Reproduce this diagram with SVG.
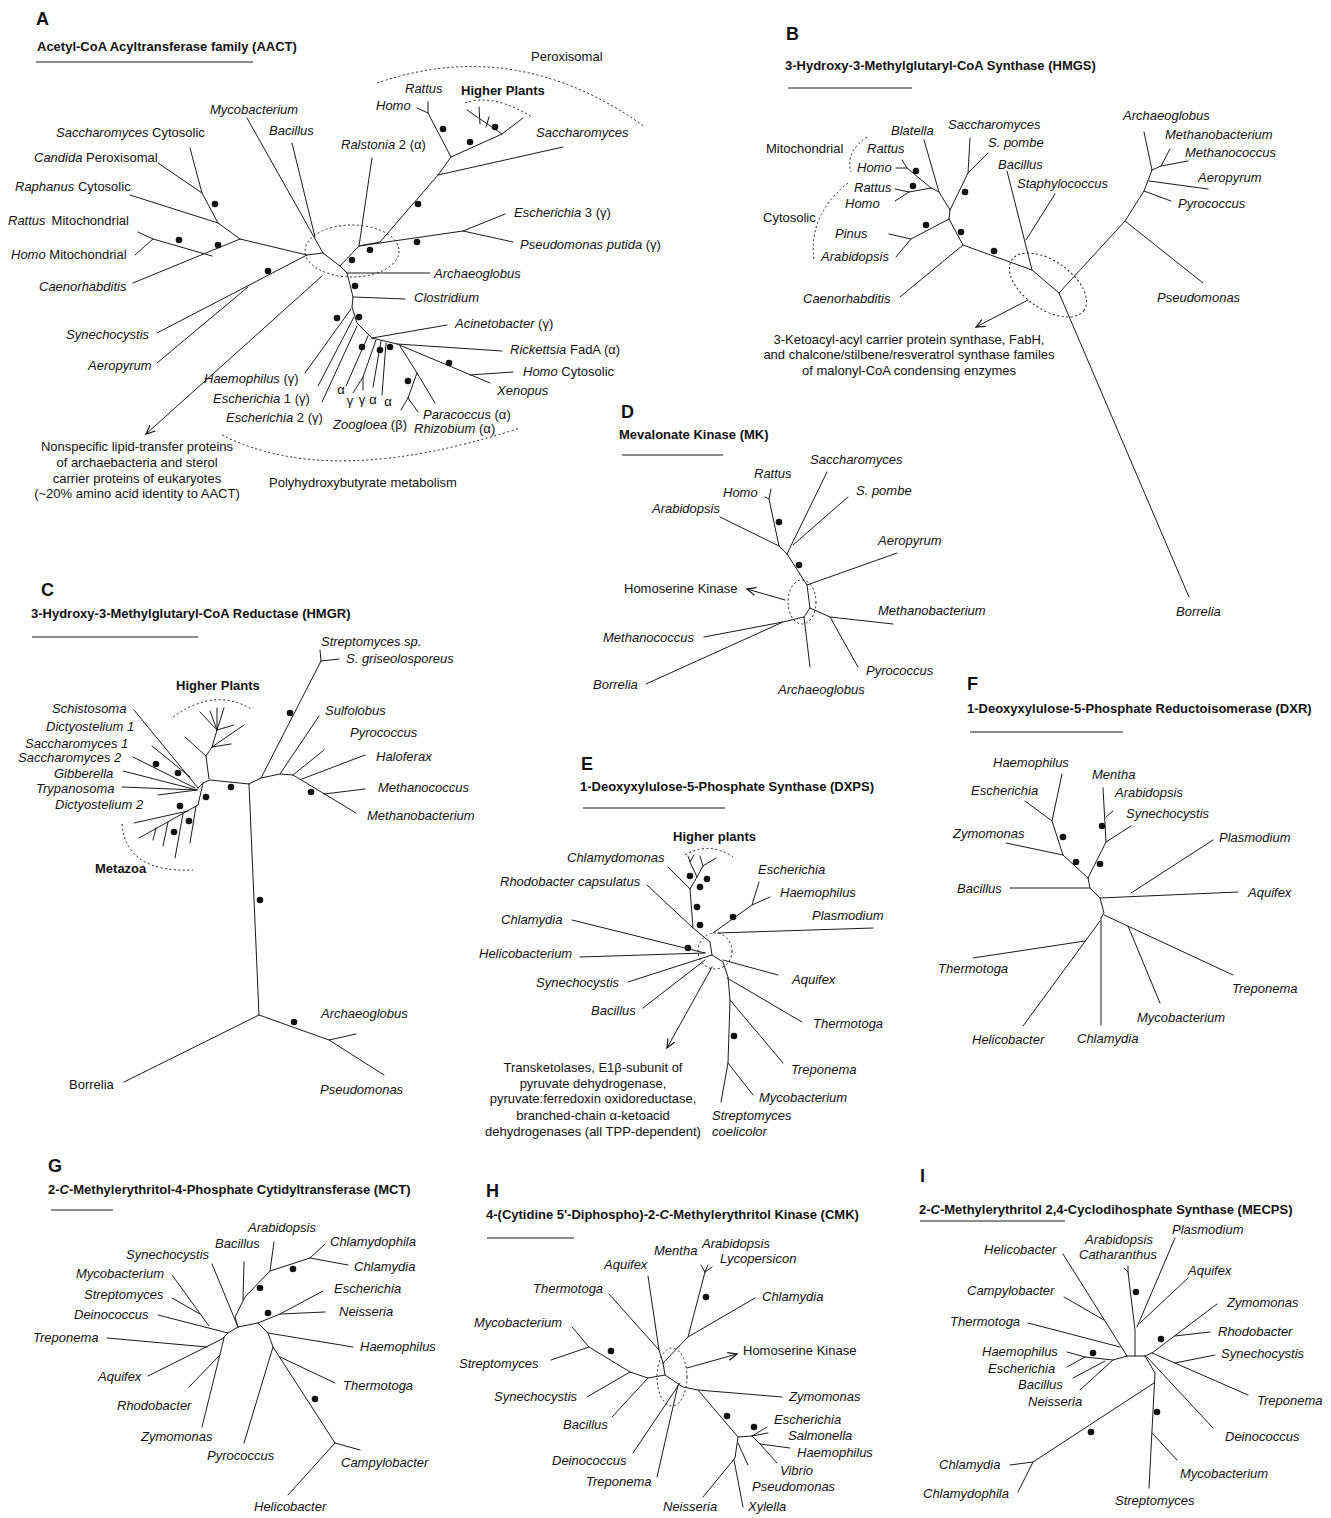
<svg xmlns="http://www.w3.org/2000/svg" width="1331" height="1518" viewBox="0 0 1331 1518">
<style>
.e{fill:none;stroke:#1a1a1a;stroke-width:1;stroke-linecap:round;stroke-linejoin:round}
.d{fill:none;stroke:#1a1a1a;stroke-width:1;stroke-dasharray:2 2.5}
.s{stroke:#1a1a1a;stroke-width:1}
text{font-family:"Liberation Sans",Arial,sans-serif;font-size:13px;fill:#111}
.i{font-style:italic}
.b{font-weight:bold}
.L{font-size:18px;font-weight:bold}
.c{text-anchor:middle}
.dot{fill:#111}
</style>
<defs>
<marker id="ar" viewBox="0 0 10 10" refX="9" refY="5" markerWidth="10" markerHeight="10" markerUnits="userSpaceOnUse" orient="auto">
<path d="M0,1 L9,5 L0,9" fill="none" stroke="#111" stroke-width="1.2"/>
</marker>
</defs>
<rect width="1331" height="1518" fill="#fff"/>

<!-- ================= PANEL A ================= -->
<g id="panel-A">
<text class="L" x="36" y="25">A</text>
<text class="b" x="37" y="51">Acetyl-CoA Acyltransferase family (AACT)</text>
<line class="s" x1="36" y1="62" x2="253" y2="62"/>
<g id="A-connectors" class="e">
<path d="M190,148L202,193L218,223L240,239 M158,163L202,193 M130,195L218,223 M133,283L240,239 M212,256L153,239L138,232 M153,239L135,255 M240,239L307,255L323,253 M157,333L307,255 M157,363L248,287 M247,118L323,253 M292,143L315,237 M372,158L359,246 M323,253L340,266L347,273L353,297L352,307L357,323L372,338 M340,266L359,246L380,242L438,175L451,157L428,113L428,102 M428,113L417,108 M451,157L502,134L523,118 M502,134L467,110 M480,124L479,107 M486,127L489,117 M438,175L563,147 M359,246L463,231L505,214 M463,231L513,242 M347,273L430,273 M353,297L405,299 M351,309L305,373 M354,317L318,386 M357,326L322,402 M372,338L447,325 M372,338L397,344L502,351 M397,344L490,383 M470,375L513,372 M400,346L417,373L435,403 M417,373L408,398L401,410 M408,398L418,412 M368,336L346,386 M376,340L363,377L353,393 M363,377L363,390 M381,341L373,387 M386,343L382,395"/>
<path d="M322,276L146,434" marker-end="url(#ar)"/>
</g>
<g id="A-dashed" class="d">
<ellipse cx="352" cy="251" rx="47" ry="26"/>
<path d="M377,83 Q517,35 645,127"/>
<path d="M465,103 Q493,93 532,117"/>
<path d="M222,435 Q330,490 520,428"/>
</g>
<g id="A-dots" class="dot">
<circle cx="215" cy="204" r="3.3"/><circle cx="179" cy="240" r="3.3"/><circle cx="218" cy="245" r="3.3"/>
<circle cx="268" cy="271" r="3.3"/><circle cx="352" cy="260" r="3.3"/><circle cx="370" cy="250" r="3.3"/>
<circle cx="417" cy="242" r="3.3"/><circle cx="418" cy="204" r="3.3"/><circle cx="443" cy="129" r="3.3"/>
<circle cx="470" cy="142" r="3.3"/><circle cx="495" cy="127" r="3.3"/><circle cx="355" cy="286" r="3.3"/>
<circle cx="337" cy="318" r="3.3"/><circle cx="359" cy="317" r="3.3"/><circle cx="362" cy="347" r="3.3"/>
<circle cx="380" cy="350" r="3.3"/><circle cx="390" cy="347" r="3.3"/><circle cx="449" cy="363" r="3.3"/>
<circle cx="408" cy="381" r="3.3"/>
</g>
<g id="A-labels">
<text class="i" x="210" y="114">Mycobacterium</text>
<text x="56" y="137"><tspan class="i">Saccharomyces</tspan> Cytosolic</text>
<text class="i" x="269" y="135">Bacillus</text>
<text x="34" y="162"><tspan class="i">Candida</tspan> Peroxisomal</text>
<text x="15" y="191"><tspan class="i">Raphanus</tspan> Cytosolic</text>
<text x="8" y="225"><tspan class="i">Rattus</tspan><tspan dx="6">Mitochondrial</tspan></text>
<text x="11" y="259"><tspan class="i">Homo</tspan> Mitochondrial</text>
<text class="i" x="39" y="291">Caenorhabditis</text>
<text class="i" x="66" y="339">Synechocystis</text>
<text class="i" x="88" y="370">Aeropyrum</text>
<text x="204" y="383"><tspan class="i">Haemophilus</tspan> (γ)</text>
<text x="213" y="403"><tspan class="i">Escherichia</tspan> 1 (γ)</text>
<text x="226" y="422"><tspan class="i">Escherichia</tspan> 2 (γ)</text>
<text x="333" y="429"><tspan class="i">Zoogloea</tspan> (β)</text>
<text class="c" x="341" y="394">α</text>
<text class="c" x="350" y="405">γ</text>
<text class="c" x="362" y="404">γ</text>
<text class="c" x="373" y="404">α</text>
<text class="c" x="388" y="406">α</text>
<text x="423" y="419"><tspan class="i">Paracoccus</tspan> (α)</text>
<text x="414" y="433"><tspan class="i">Rhizobium</tspan> (α)</text>
<text class="i" x="497" y="395">Xenopus</text>
<text x="523" y="376"><tspan class="i">Homo</tspan> Cytosolic</text>
<text x="510" y="354"><tspan class="i">Rickettsia</tspan> FadA (α)</text>
<text x="455" y="328"><tspan class="i">Acinetobacter</tspan> (γ)</text>
<text class="i" x="414" y="302">Clostridium</text>
<text class="i" x="434" y="278">Archaeoglobus</text>
<text x="520" y="249"><tspan class="i">Pseudomonas putida</tspan> (γ)</text>
<text x="514" y="217"><tspan class="i">Escherichia</tspan> 3 (γ)</text>
<text x="341" y="149"><tspan class="i">Ralstonia</tspan> 2 (α)</text>
<text class="i" x="536" y="137">Saccharomyces</text>
<text class="i" x="376" y="110">Homo</text>
<text class="i" x="405" y="93">Rattus</text>
<text class="b" x="461" y="95">Higher Plants</text>
<text x="531" y="61">Peroxisomal</text>
<text x="269" y="487">Polyhydroxybutyrate metabolism</text>
<text class="c" x="137" y="451">Nonspecific lipid-transfer proteins</text>
<text class="c" x="137" y="467">of archaebacteria and sterol</text>
<text class="c" x="137" y="483">carrier proteins of eukaryotes</text>
<text class="c" x="137" y="498">(~20% amino acid identity to AACT)</text>
</g>
</g>

<!-- ================= PANEL B ================= -->
<g id="panel-B">
<text class="L" x="786" y="40">B</text>
<text class="b" x="785" y="70">3-Hydroxy-3-Methylglutaryl-CoA Synthase (HMGS)</text>
<line class="s" x1="788" y1="88" x2="912" y2="88"/>
<g id="B-connectors" class="e">
<path d="M907,168L896,168 M907,168L902,160 M907,168L931,188 M909,192L895,189 M909,192L895,201 M909,192L931,188 M931,188L939,192 M924,140L939,192L950,210 M970,138L968,173L950,210 M988,153L968,173 M950,210L949,219L911,239L889,234 M911,239L896,257 M949,219L963,245L900,297 M963,245L1032,270L1059,293L1189,597 M1007,171L1032,270 M1055,194L1026,240 M1059,293L1125,221L1203,283 M1125,221L1144,191L1152,170L1144,132 M1144,191L1171,201 M1149,181L1208,189 M1152,170L1161,166L1170,149 M1161,166L1188,161"/>
<path d="M1028,300L976,327" marker-end="url(#ar)"/>
</g>
<g id="B-dashed" class="d">
<ellipse cx="1048" cy="285" rx="44" ry="24" transform="rotate(35 1048 285)"/>
<path d="M867,137 Q845,152 851,172"/>
<path d="M848,183 Q808,215 814,260"/>
</g>
<g id="B-dots" class="dot">
<circle cx="916" cy="171" r="3.3"/><circle cx="913" cy="186" r="3.3"/><circle cx="965" cy="192" r="3.3"/>
<circle cx="926" cy="225" r="3.3"/><circle cx="961" cy="232" r="3.3"/><circle cx="994" cy="251" r="3.3"/>
</g>
<g id="B-labels">
<text class="i" x="891" y="135">Blatella</text>
<text class="i" x="948" y="129">Saccharomyces</text>
<text class="i" x="988" y="147">S. pombe</text>
<text class="i" x="998" y="169">Bacillus</text>
<text class="i" x="1017" y="188">Staphylococcus</text>
<text x="766" y="153">Mitochondrial</text>
<text class="i" x="867" y="153">Rattus</text>
<text class="i" x="857" y="172">Homo</text>
<text class="i" x="854" y="192">Rattus</text>
<text class="i" x="845" y="208">Homo</text>
<text x="763" y="222">Cytosolic</text>
<text class="i" x="835" y="238">Pinus</text>
<text class="i" x="821" y="261">Arabidopsis</text>
<text class="i" x="803" y="303">Caenorhabditis</text>
<text class="i" x="1123" y="120">Archaeoglobus</text>
<text class="i" x="1165" y="139">Methanobacterium</text>
<text class="i" x="1185" y="157">Methanococcus</text>
<text class="i" x="1198" y="182">Aeropyrum</text>
<text class="i" x="1178" y="208">Pyrococcus</text>
<text class="i" x="1157" y="302">Pseudomonas</text>
<text class="i" x="1176" y="616">Borrelia</text>
<text class="c" x="909" y="344">3-Ketoacyl-acyl carrier protein synthase, FabH,</text>
<text class="c" x="909" y="359">and chalcone/stilbene/resveratrol synthase familes</text>
<text class="c" x="909" y="375">of malonyl-CoA condensing enzymes</text>
</g>
</g>

<!-- ================= PANEL C ================= -->
<g id="panel-C">
<text class="L" x="41" y="596">C</text>
<text class="b" x="31" y="618">3-Hydroxy-3-Methylglutaryl-CoA Reductase (HMGR)</text>
<line class="s" x1="32" y1="637" x2="198" y2="637"/>
<g id="C-connectors" class="e">
<path d="M203,783L210,780L249,784 M249,784L259,1015L124,1082 M259,1015L329,1040L356,1034 M329,1040L384,1075 M249,784L261,778L280,774L293,775 M261,778L321,661L320,650 M321,661L339,659 M280,774L319,716 M293,775L324,750 M302,779L365,755 M293,775L356,813 M324,794L365,789 M203,783L198,788 M134,710L198,788 M152,746L190,777 M133,757L195,788 M123,771L197,790 M122,787L197,790 M158,795L197,790 M203,783L198,805L139,838 M188,811L134,823 M196,806L190,843 M183,814L175,858 M168,822L163,846 M156,828L153,840 M209,779L206,756L185,737 M206,756L212,747L244,725 M212,747L217,730L200,712 M217,730L210,711 M217,730L217,708 M217,730L224,708 M212,747L231,744 M217,730L234,725"/>
</g>
<g id="C-dashed" class="d">
<path d="M173,717 Q215,687 251,709"/>
<path d="M122,824 Q126,873 193,870"/>
</g>
<g id="C-dots" class="dot">
<circle cx="156" cy="764" r="3.3"/><circle cx="178" cy="773" r="3.3"/><circle cx="206" cy="797" r="3.3"/>
<circle cx="180" cy="806" r="3.3"/><circle cx="189" cy="821" r="3.3"/><circle cx="174" cy="832" r="3.3"/>
<circle cx="231" cy="787" r="3.3"/><circle cx="260" cy="900" r="3.3"/><circle cx="290" cy="713" r="3.3"/>
<circle cx="311" cy="792" r="3.3"/><circle cx="294" cy="1022" r="3.3"/>
</g>
<g id="C-labels">
<text class="b" x="176" y="690">Higher Plants</text>
<text class="i" x="52" y="713">Schistosoma</text>
<text class="i" x="46" y="731">Dictyostelium 1</text>
<text class="i" x="25" y="748">Saccharomyces 1</text>
<text class="i" x="18" y="762">Saccharomyces 2</text>
<text class="i" x="54" y="778">Gibberella</text>
<text class="i" x="36" y="793">Trypanosoma</text>
<text class="i" x="55" y="809">Dictyostelium 2</text>
<text class="b" x="95" y="873">Metazoa</text>
<text class="i" x="321" y="646">Streptomyces sp.</text>
<text class="i" x="346" y="663">S. griseolosporeus</text>
<text class="i" x="325" y="715">Sulfolobus</text>
<text class="i" x="350" y="737">Pyrococcus</text>
<text class="i" x="376" y="761">Haloferax</text>
<text class="i" x="378" y="792">Methanococcus</text>
<text class="i" x="367" y="820">Methanobacterium</text>
<text class="i" x="321" y="1018">Archaeoglobus</text>
<text x="69" y="1089">Borrelia</text>
<text class="i" x="320" y="1094">Pseudomonas</text>
</g>
</g>

<!-- ================= PANEL D ================= -->
<g id="panel-D">
<text class="L" x="621" y="418">D</text>
<text class="b" x="619" y="439">Mevalonate Kinase (MK)</text>
<line class="s" x1="622" y1="455" x2="723" y2="455"/>
<g id="D-connectors" class="e">
<path d="M771,489L769,499L779,546 M765,497L769,499 M720,517L779,546L787,554 M827,472L787,554 M848,497L793,545 M787,554L807,585L897,553 M807,585L810,608L804,617 M810,608L830,617L893,624 M830,617L858,667 M804,617L810,667 M804,617L783,622L704,637 M783,622L646,684"/>
<path d="M785,600L747,589" marker-end="url(#ar)"/>
</g>
<g id="D-dashed" class="d"><ellipse cx="802" cy="602" rx="14" ry="22"/></g>
<g id="D-dots" class="dot"><circle cx="779" cy="522" r="3.3"/><circle cx="799" cy="565" r="3.3"/></g>
<g id="D-labels">
<text class="i" x="810" y="464">Saccharomyces</text>
<text class="i" x="754" y="478">Rattus</text>
<text class="i" x="856" y="495">S. pombe</text>
<text class="i" x="723" y="497">Homo</text>
<text class="i" x="652" y="513">Arabidopsis</text>
<text class="i" x="878" y="545">Aeropyrum</text>
<text x="624" y="593">Homoserine Kinase</text>
<text class="i" x="878" y="615">Methanobacterium</text>
<text class="i" x="603" y="642">Methanococcus</text>
<text class="i" x="866" y="675">Pyrococcus</text>
<text class="i" x="593" y="689">Borrelia</text>
<text class="i" x="778" y="694">Archaeoglobus</text>
</g>
</g>

<!-- ================= PANEL E ================= -->
<g id="panel-E">
<text class="L" x="581" y="770">E</text>
<text class="b" x="580" y="791">1-Deoxyxylulose-5-Phosphate Synthase (DXPS)</text>
<line class="s" x1="583" y1="808" x2="725" y2="808"/>
<g id="E-connectors" class="e">
<path d="M710,942L693,928L690,889L697,877 M647,885L693,928 M668,867L690,889 M697,877L690,862L688,856 M690,862L694,855 M697,877L703,866L700,856 M703,866L716,858 M759,882L752,905 M770,897L752,905L713,933 M718,933L873,928 M710,942L712,955 M572,920L705,953 M580,957L705,953 M628,982L712,955 M643,1008L705,960 M723,960L778,975 M712,955L723,962L728,977L730,1000L728,1063L721,1102 M727,978L802,1022 M730,1000L783,1063 M728,1063L753,1095"/>
<path d="M712,967L667,1048" marker-end="url(#ar)"/>
</g>
<g id="E-dashed" class="d">
<ellipse cx="715" cy="951" rx="17" ry="18"/>
<path d="M685,855 Q709,841 733,857"/>
</g>
<g id="E-dots" class="dot">
<circle cx="690" cy="876" r="3.3"/><circle cx="707" cy="879" r="3.3"/><circle cx="700" cy="887" r="3.3"/>
<circle cx="697" cy="907" r="3.3"/><circle cx="700" cy="925" r="3.3"/><circle cx="733" cy="917" r="3.3"/>
<circle cx="688" cy="948" r="3.3"/><circle cx="734" cy="1036" r="3.3"/>
</g>
<g id="E-labels">
<text class="b" x="673" y="841">Higher plants</text>
<text class="i" x="567" y="862">Chlamydomonas</text>
<text class="i" x="500" y="886">Rhodobacter capsulatus</text>
<text class="i" x="758" y="874">Escherichia</text>
<text class="i" x="780" y="897">Haemophilus</text>
<text class="i" x="812" y="920">Plasmodium</text>
<text class="i" x="501" y="924">Chlamydia</text>
<text class="i" x="479" y="958">Helicobacterium</text>
<text class="i" x="792" y="984">Aquifex</text>
<text class="i" x="536" y="987">Synechocystis</text>
<text class="i" x="591" y="1015">Bacillus</text>
<text class="i" x="813" y="1028">Thermotoga</text>
<text class="i" x="791" y="1074">Treponema</text>
<text class="i" x="759" y="1102">Mycobacterium</text>
<text class="i" x="712" y="1120">Streptomyces</text>
<text class="i" x="712" y="1136">coelicolor</text>
<text class="c" x="593" y="1072">Transketolases, E1β-subunit of</text>
<text class="c" x="593" y="1088">pyruvate dehydrogenase,</text>
<text class="c" x="593" y="1103">pyruvate:ferredoxin oxidoreductase,</text>
<text class="c" x="593" y="1120">branched-chain α-ketoacid</text>
<text class="c" x="593" y="1136">dehydrogenases (all TPP-dependent)</text>
</g>
</g>

<!-- ================= PANEL F ================= -->
<g id="panel-F">
<text class="L" x="967" y="690">F</text>
<text class="b" x="967" y="713">1-Deoxyxylulose-5-Phosphate Reductoisomerase (DXR)</text>
<line class="s" x1="970" y1="732" x2="1123" y2="732"/>
<g id="F-connectors" class="e">
<path d="M1062,774L1052,821L1063,855L1088,878 M1025,801L1052,821 M1006,843L1063,855 M1103,788L1106,842L1088,878 M1113,811L1106,817 M1131,826L1106,842 M1088,878L1090,888L1100,898L1238,892 M1010,888L1090,888 M1213,840L1131,893 M1100,898L1104,913L1101,918L1101,1025 M1100,921L1023,1026 M973,958L1085,941 M1104,915L1233,975 M1160,1003L1128,926"/>
</g>
<g id="F-dots" class="dot">
<circle cx="1063" cy="837" r="3.3"/><circle cx="1076" cy="862" r="3.3"/><circle cx="1102" cy="826" r="3.3"/><circle cx="1100" cy="864" r="3.3"/>
</g>
<g id="F-labels">
<text class="i" x="993" y="767">Haemophilus</text>
<text class="i" x="1092" y="779">Mentha</text>
<text class="i" x="971" y="795">Escherichia</text>
<text class="i" x="1115" y="797">Arabidopsis</text>
<text class="i" x="1126" y="818">Synechocystis</text>
<text class="i" x="953" y="838">Zymomonas</text>
<text class="i" x="1219" y="842">Plasmodium</text>
<text class="i" x="957" y="893">Bacillus</text>
<text class="i" x="1248" y="897">Aquifex</text>
<text class="i" x="938" y="973">Thermotoga</text>
<text class="i" x="1232" y="993">Treponema</text>
<text class="i" x="1137" y="1022">Mycobacterium</text>
<text class="i" x="972" y="1044">Helicobacter</text>
<text class="i" x="1077" y="1043">Chlamydia</text>
</g>
</g>

<!-- ================= PANEL G ================= -->
<g id="panel-G">
<text class="L" x="48" y="1172">G</text>
<text class="b" x="48" y="1194">2-<tspan class="i">C</tspan>-Methylerythritol-4-Phosphate Cytidyltransferase (MCT)</text>
<line class="s" x1="51" y1="1210" x2="113" y2="1210"/>
<g id="G-connectors" class="e">
<path d="M228,1333L238,1327L258,1323 M172,1275L209,1326 M172,1298L200,1314 M158,1315L228,1333 M212,1264L238,1327 M238,1327L235,1317L245,1297L270,1271 M244,1262L243,1300 M274,1242L270,1271L310,1258L325,1244 M310,1258L348,1265 M258,1323L280,1314L323,1291 M280,1314L325,1312 M258,1323L268,1333L353,1347 M268,1333L273,1347L244,1443 M273,1347L335,1443L360,1450 M335,1443L288,1495 M280,1357L335,1383 M228,1333L223,1338 M107,1338L207,1347 M148,1376L224,1338 M189,1387L220,1355 M202,1427L224,1338"/>
</g>
<g id="G-dots" class="dot">
<circle cx="293" cy="1269" r="3.3"/><circle cx="260" cy="1288" r="3.3"/><circle cx="268" cy="1313" r="3.3"/><circle cx="315" cy="1399" r="3.3"/>
</g>
<g id="G-labels">
<text class="i" x="248" y="1232">Arabidopsis</text>
<text class="i" x="330" y="1246">Chlamydophila</text>
<text class="i" x="215" y="1248">Bacillus</text>
<text class="i" x="126" y="1259">Synechocystis</text>
<text class="i" x="354" y="1271">Chlamydia</text>
<text class="i" x="76" y="1278">Mycobacterium</text>
<text class="i" x="334" y="1293">Escherichia</text>
<text class="i" x="84" y="1299">Streptomyces</text>
<text class="i" x="339" y="1316">Neisseria</text>
<text class="i" x="74" y="1319">Deinococcus</text>
<text class="i" x="33" y="1342">Treponema</text>
<text class="i" x="360" y="1351">Haemophilus</text>
<text class="i" x="98" y="1381">Aquifex</text>
<text class="i" x="343" y="1390">Thermotoga</text>
<text class="i" x="117" y="1410">Rhodobacter</text>
<text class="i" x="141" y="1441">Zymomonas</text>
<text class="i" x="207" y="1460">Pyrococcus</text>
<text class="i" x="341" y="1467">Campylobacter</text>
<text class="i" x="254" y="1511">Helicobacter</text>
</g>
</g>

<!-- ================= PANEL H ================= -->
<g id="panel-H">
<text class="L" x="486" y="1197">H</text>
<text class="b" x="486" y="1219">4-(Cytidine 5'-Diphospho)-2-<tspan class="i">C</tspan>-Methylerythritol Kinase (CMK)</text>
<line class="s" x1="487" y1="1238" x2="574" y2="1238"/>
<g id="H-connectors" class="e">
<path d="M705,1272L701,1265 M705,1272L708,1265 M705,1272L712,1267 M705,1272L688,1337L663,1363 M755,1298L688,1337 M648,1276L659,1350L663,1363 M609,1294L659,1350 M663,1363L665,1375L648,1378L630,1372L589,1347L572,1327 M589,1347L551,1360 M587,1397L630,1372 M612,1417L648,1378 M665,1375L683,1387L698,1390L782,1397 M633,1453L680,1383 M657,1477L678,1385 M698,1390L738,1437L752,1436L767,1427 M752,1436L768,1433 M752,1436L760,1444L790,1448 M760,1444L777,1463 M738,1437L735,1458L703,1497 M734,1460L743,1507 M738,1443L748,1465"/>
<path d="M687,1368L737,1354" marker-end="url(#ar)"/>
</g>
<g id="H-dashed" class="d"><ellipse cx="672" cy="1377" rx="15" ry="29"/></g>
<g id="H-dots" class="dot">
<circle cx="706" cy="1297" r="3.3"/><circle cx="611" cy="1351" r="3.3"/><circle cx="727" cy="1416" r="3.3"/><circle cx="754" cy="1427" r="3.3"/>
</g>
<g id="H-labels">
<text class="i" x="702" y="1248">Arabidopsis</text>
<text class="i" x="654" y="1255">Mentha</text>
<text class="i" x="720" y="1263">Lycopersicon</text>
<text class="i" x="604" y="1269">Aquifex</text>
<text class="i" x="533" y="1293">Thermotoga</text>
<text class="i" x="762" y="1301">Chlamydia</text>
<text class="i" x="474" y="1327">Mycobacterium</text>
<text x="743" y="1355">Homoserine Kinase</text>
<text class="i" x="459" y="1368">Streptomyces</text>
<text class="i" x="494" y="1401">Synechocystis</text>
<text class="i" x="789" y="1401">Zymomonas</text>
<text class="i" x="774" y="1424">Escherichia</text>
<text class="i" x="563" y="1429">Bacillus</text>
<text class="i" x="788" y="1440">Salmonella</text>
<text class="i" x="797" y="1457">Haemophilus</text>
<text class="i" x="552" y="1465">Deinococcus</text>
<text class="i" x="780" y="1475">Vibrio</text>
<text class="i" x="586" y="1486">Treponema</text>
<text class="i" x="752" y="1491">Pseudomonas</text>
<text class="i" x="663" y="1511">Neisseria</text>
<text class="i" x="748" y="1511">Xylella</text>
</g>
</g>

<!-- ================= PANEL I ================= -->
<g id="panel-I">
<text class="L" x="920" y="1182">I</text>
<text class="b" x="919" y="1214">2-<tspan class="i">C</tspan>-Methylerythritol 2,4-Cyclodihosphate Synthase (MECPS)</text>
<line class="s" x1="920" y1="1221" x2="1065" y2="1221"/>
<g id="I-connectors" class="e">
<path d="M1127,1356L1145,1356 M1128,1272L1124,1268 M1128,1272L1128,1266 M1128,1272L1135,1330L1135,1356 M1175,1238L1137,1327 M1188,1278L1140,1323 M1063,1254L1127,1356 M1064,1297L1104,1320 M1028,1323L1120,1347 M1067,1352L1085,1357L1113,1360L1127,1356 M1067,1367L1085,1357 M1073,1378L1105,1361 M1080,1390L1113,1360 M1145,1356L1152,1353L1217,1304 M1210,1332L1175,1336 M1152,1353L1248,1395 M1215,1355L1175,1363 M1145,1356L1155,1373L1149,1488 M1147,1357L1213,1428 M1152,1433L1177,1460 M1154,1383L1033,1462L1010,1465 M1033,1462L1018,1492"/>
</g>
<g id="I-dots" class="dot">
<circle cx="1136" cy="1292" r="3.3"/><circle cx="1093" cy="1353" r="3.3"/><circle cx="1161" cy="1339" r="3.3"/><circle cx="1157" cy="1412" r="3.3"/><circle cx="1091" cy="1432" r="3.3"/>
</g>
<g id="I-labels">
<text class="i" x="1172" y="1234">Plasmodium</text>
<text class="i" x="1085" y="1244">Arabidopsis</text>
<text class="i" x="984" y="1254">Helicobacter</text>
<text class="i" x="1079" y="1259">Catharanthus</text>
<text class="i" x="1188" y="1275">Aquifex</text>
<text class="i" x="967" y="1295">Campylobacter</text>
<text class="i" x="1227" y="1307">Zymomonas</text>
<text class="i" x="950" y="1326">Thermotoga</text>
<text class="i" x="1218" y="1336">Rhodobacter</text>
<text class="i" x="982" y="1356">Haemophilus</text>
<text class="i" x="1221" y="1358">Synechocystis</text>
<text class="i" x="988" y="1373">Escherichia</text>
<text class="i" x="1018" y="1389">Bacillus</text>
<text class="i" x="1028" y="1406">Neisseria</text>
<text class="i" x="1257" y="1405">Treponema</text>
<text class="i" x="1225" y="1441">Deinococcus</text>
<text class="i" x="939" y="1469">Chlamydia</text>
<text class="i" x="1180" y="1478">Mycobacterium</text>
<text class="i" x="923" y="1498">Chlamydophila</text>
<text class="i" x="1115" y="1505">Streptomyces</text>
</g>
</g>
</svg>
